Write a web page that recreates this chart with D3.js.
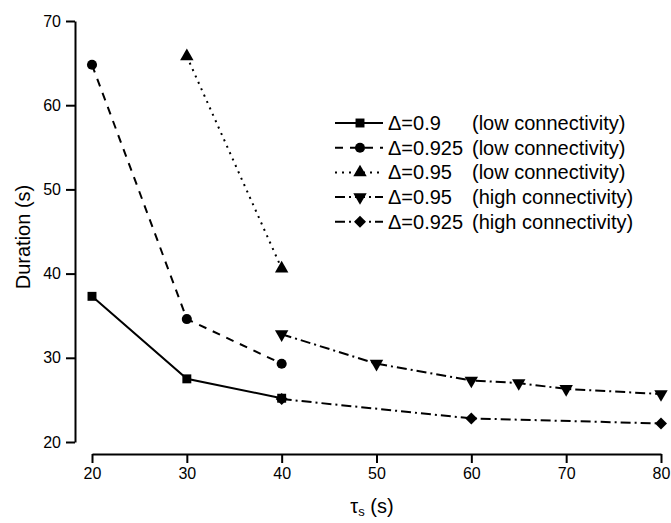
<!DOCTYPE html>
<html>
<head>
<meta charset="utf-8">
<script src="https://cdn.jsdelivr.net/npm/d3@7"></script>
<style>
  body { margin: 0; background: #fff; }
  text { font-family: "Liberation Sans", Arial, sans-serif; fill: #000; }
</style>
</head>
<body>
<div id="chart"></div>
<script>
// data
const seriesNames = ["Δ=0.9", "Δ=0.925", "Δ=0.95", "Δ=0.95", "Δ=0.925"];
const seriesNotes = ["(low connectivity)", "(low connectivity)", "(low connectivity)", "(high connectivity)", "(high connectivity)"];
const tauLow09 = [20, 30, 40];
const durLow09 = [37.3, 27.5, 25.2];
const tauLow0925 = [20, 30, 40];
const durLow0925 = [64.8, 34.6, 29.3];
const tauLow095 = [30, 40];
const durLow095 = [65.8, 40.6];
const tauHigh095 = [40, 50, 60, 65, 70, 80];
const durHigh095 = [32.8, 29.3, 27.3, 27.0, 26.3, 25.7];
const tauHigh0925 = [40, 60, 80];
const durHigh0925 = [25.1, 22.8, 22.2];
const xTicks = [20, 30, 40, 50, 60, 70, 80];
const yTicks = [20, 30, 40, 50, 60, 70];

const W = 671, H = 523;

const svg = d3.select("#chart").append("svg")
  .attr("width", W)
  .attr("height", H);

const x = d3.scaleLinear().domain([20, 80]).range([92, 661]);
const y = d3.scaleLinear().domain([20, 70]).range([442, 21]);

const series = [
  { tau: tauLow09, dur: durLow09, dash: null, sym: d3.symbolSquare, size: 80, rot: 0 },
  { tau: tauLow0925, dur: durLow0925, dash: "8,7", sym: d3.symbolCircle, size: 80, rot: 0 },
  { tau: tauLow095, dur: durLow095, dash: "2,5", sym: d3.symbolTriangle, size: 78, rot: 0 },
  { tau: tauHigh095, dur: durHigh095, dash: "10,4,2,4", sym: d3.symbolTriangle, size: 78, rot: 180 },
  { tau: tauHigh0925, dur: durHigh0925, dash: "10,4,2,4", sym: d3.symbolSquare, size: 72, rot: 45 }
];
series.forEach((s, i) => {
  s.name = seriesNames[i];
  s.note = seriesNotes[i];
  s.points = s.tau.map((t, j) => [t, s.dur[j]]);
});

// axes
const yAxis = svg.append("g")
  .attr("transform", "translate(75,0)")
  .call(d3.axisLeft(y).tickValues(yTicks).tickSize(9).tickPadding(5).tickSizeOuter(0));
const xAxis = svg.append("g")
  .attr("transform", "translate(0,454)")
  .call(d3.axisBottom(x).tickValues(xTicks).tickSize(9).tickPadding(5).tickSizeOuter(0));

[yAxis, xAxis].forEach(ax => {
  ax.select(".domain").attr("stroke", "#000").attr("stroke-width", 2);
  ax.selectAll(".tick line").attr("stroke", "#000").attr("stroke-width", 2);
  ax.selectAll(".tick text")
    .style("font-family", "'Liberation Sans', Arial, sans-serif")
    .style("font-size", "16px");
});

svg.append("text")
  .attr("transform", "translate(30,237) rotate(-90)")
  .attr("text-anchor", "middle")
  .style("font-size", "20px")
  .text("Duration (s)");

const xl = svg.append("text")
  .attr("x", 372)
  .attr("y", 513)
  .attr("text-anchor", "middle")
  .style("font-size", "20px");
xl.append("tspan").text("τ");
xl.append("tspan").attr("dy", 3).style("font-size", "13px").text("s");
xl.append("tspan").attr("dy", -3).text(" (s)");

// lines
const line = d3.line().x(d => x(d[0])).y(d => y(d[1]));

series.forEach(s => {
  svg.append("path")
    .datum(s.points)
    .attr("d", line)
    .attr("fill", "none")
    .attr("stroke", "#000")
    .attr("stroke-width", 2)
    .attr("stroke-dasharray", s.dash);

  svg.selectAll(null)
    .data(s.points)
    .enter().append("path")
    .attr("d", d3.symbol().type(s.sym).size(s.size))
    .attr("transform", d => "translate(" + x(d[0]) + "," + y(d[1]) + ") rotate(" + s.rot + ")")
    .attr("fill", "#000");
});

// legend
const legend = svg.append("g");
series.forEach((s, i) => {
  const ly = 123 + i * 24.7;
  legend.append("line")
    .attr("x1", 335).attr("x2", 383)
    .attr("y1", ly).attr("y2", ly)
    .attr("stroke", "#000")
    .attr("stroke-width", 2)
    .attr("stroke-dasharray", s.dash);
  legend.append("path")
    .attr("d", d3.symbol().type(s.sym).size(s.size))
    .attr("transform", "translate(360," + ly + ") rotate(" + s.rot + ")")
    .attr("fill", "#000");
  legend.append("text")
    .attr("x", 388).attr("y", ly + 7)
    .style("font-size", "20px")
    .text(s.name);
  legend.append("text")
    .attr("x", 472).attr("y", ly + 7)
    .style("font-size", "20px")
    .text(s.note);
});
</script>
</body>
</html>
